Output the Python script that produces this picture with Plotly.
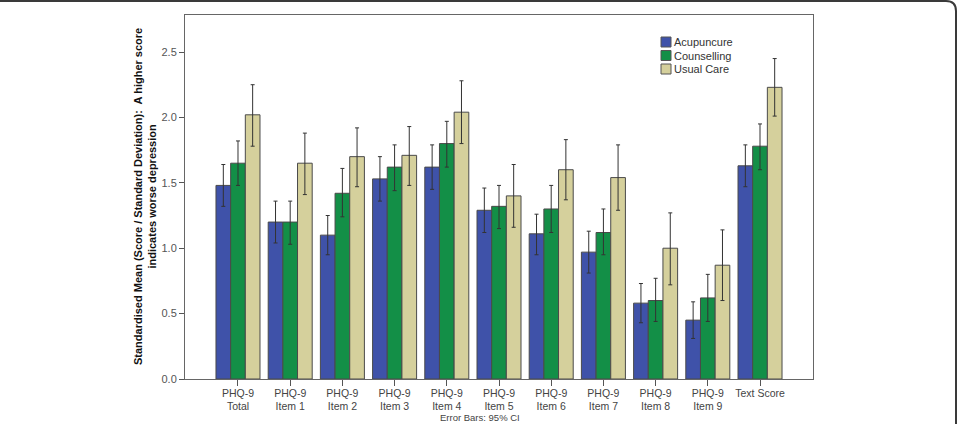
import plotly.graph_objects as go

categories = ["PHQ-9<br>Total", "PHQ-9<br>Item 1", "PHQ-9<br>Item 2", "PHQ-9<br>Item 3",
              "PHQ-9<br>Item 4", "PHQ-9<br>Item 5", "PHQ-9<br>Item 6", "PHQ-9<br>Item 7",
              "PHQ-9<br>Item 8", "PHQ-9<br>Item 9", "Text Score"]

acu_mean = [1.48, 1.20, 1.10, 1.53, 1.62, 1.29, 1.11, 0.97, 0.58, 0.45, 1.63]
acu_hi   = [1.64, 1.36, 1.25, 1.70, 1.79, 1.46, 1.26, 1.13, 0.73, 0.59, 1.79]
acu_lo   = [1.32, 1.04, 0.95, 1.36, 1.45, 1.12, 0.95, 0.81, 0.43, 0.31, 1.47]

cou_mean = [1.65, 1.20, 1.42, 1.62, 1.80, 1.32, 1.30, 1.12, 0.60, 0.62, 1.78]
cou_hi   = [1.82, 1.36, 1.61, 1.79, 1.97, 1.48, 1.48, 1.30, 0.77, 0.80, 1.95]
cou_lo   = [1.48, 1.03, 1.24, 1.44, 1.62, 1.15, 1.12, 0.95, 0.44, 0.44, 1.60]

uc_mean = [2.02, 1.65, 1.70, 1.71, 2.04, 1.40, 1.60, 1.54, 1.00, 0.87, 2.23]
uc_hi   = [2.25, 1.88, 1.92, 1.93, 2.28, 1.64, 1.83, 1.79, 1.27, 1.14, 2.45]
uc_lo   = [1.78, 1.41, 1.47, 1.48, 1.80, 1.16, 1.37, 1.29, 0.72, 0.60, 2.01]

series_names = ["Acupuncure", "Counselling", "Usual Care"]
series_colors = ["#3F52A9", "#138F47", "#D5D09C"]
series_data = [(acu_mean, acu_hi, acu_lo), (cou_mean, cou_hi, cou_lo), (uc_mean, uc_hi, uc_lo)]

W, H = 959, 424
L, R, T, B = 185, 813, 15, 379
PW, PH = R - L, B - T


def px(x):
    return (x - L) / PW


def py(y):
    return (B - y) / PH


fig = go.Figure()
for name, col, (m, hi, lo) in zip(series_names, series_colors, series_data):
    fig.add_trace(go.Bar(
        name=name, x=categories, y=m, showlegend=False,
        marker=dict(color=col, line=dict(color="#4a4a4a", width=1)),
        error_y=dict(type="data", symmetric=False,
                     array=[h - v for h, v in zip(hi, m)],
                     arrayminus=[v - l for l, v in zip(lo, m)],
                     color="#333333", thickness=1, width=2),
    ))

# manual compact legend (SPSS style)
shapes = []
annotations = []
for i, (name, col) in enumerate(zip(series_names, series_colors)):
    top = 37 + i * 13.5
    shapes.append(dict(type="rect", xref="paper", yref="paper",
                       x0=px(661), x1=px(671), y0=py(top), y1=py(top + 10),
                       fillcolor=col, line=dict(color="#555555", width=1)))
    annotations.append(dict(text=name, xref="paper", yref="paper",
                            x=px(672), y=py(top + 5), xanchor="left", yanchor="middle",
                            showarrow=False, font=dict(size=11, color="#333333")))

annotations += [
    dict(text="<b>Standardised Mean (Score / Standard Deviation):  A higher score<br>indicates worse depression</b>",
         xref="paper", yref="paper", x=px(145), y=0.5, textangle=-90,
         showarrow=False, xanchor="center", yanchor="middle",
         font=dict(size=11, color="#111111")),
    dict(text="Error Bars: 95% CI", xref="paper", yref="paper",
         x=px(480), y=py(424), xanchor="center", yanchor="bottom", borderpad=0,
         showarrow=False, font=dict(size=9.5, color="#444444")),
]

shapes.append(dict(type="path", xref="paper", yref="paper", layer="above",
                   path="M {x0},{y0} L {x1},{y0} Q {x2},{y0} {x2},{y1} L {x2},{y3}".format(
                       x0=px(-2), x1=px(946), x2=px(956),
                       y0=py(1), y1=py(11), y3=py(430)),
                   line=dict(color="#3a3a3a", width=2)))

fig.update_layout(
    width=W, height=H,
    margin=dict(l=L, r=W - R, t=T, b=H - B, pad=0, autoexpand=False),
    paper_bgcolor="white", plot_bgcolor="white",
    barmode="group", bargap=0.157, bargroupgap=0,
    font=dict(family="Liberation Sans, Arial, sans-serif", color="#444444", size=11),
    showlegend=False,
    xaxis=dict(range=[-1.015, 11.015], showline=True, linecolor="#666666", linewidth=1,
               mirror=True, ticks="outside", ticklen=6, tickcolor="#555555",
               ticklabelstandoff=-2,
               tickfont=dict(size=10.5, color="#444444"), showgrid=False, zeroline=False),
    yaxis=dict(range=[0, 2.783], showline=True, linecolor="#666666", linewidth=1,
               mirror=True, ticks="outside", ticklen=5, tickcolor="#555555",
               tickvals=[0, 0.5, 1.0, 1.5, 2.0, 2.5], tickformat=".1f",
               tickfont=dict(size=11, color="#555555"), showgrid=False, zeroline=False),
    annotations=annotations,
    shapes=shapes,
)

fig.write_html("out.html")
